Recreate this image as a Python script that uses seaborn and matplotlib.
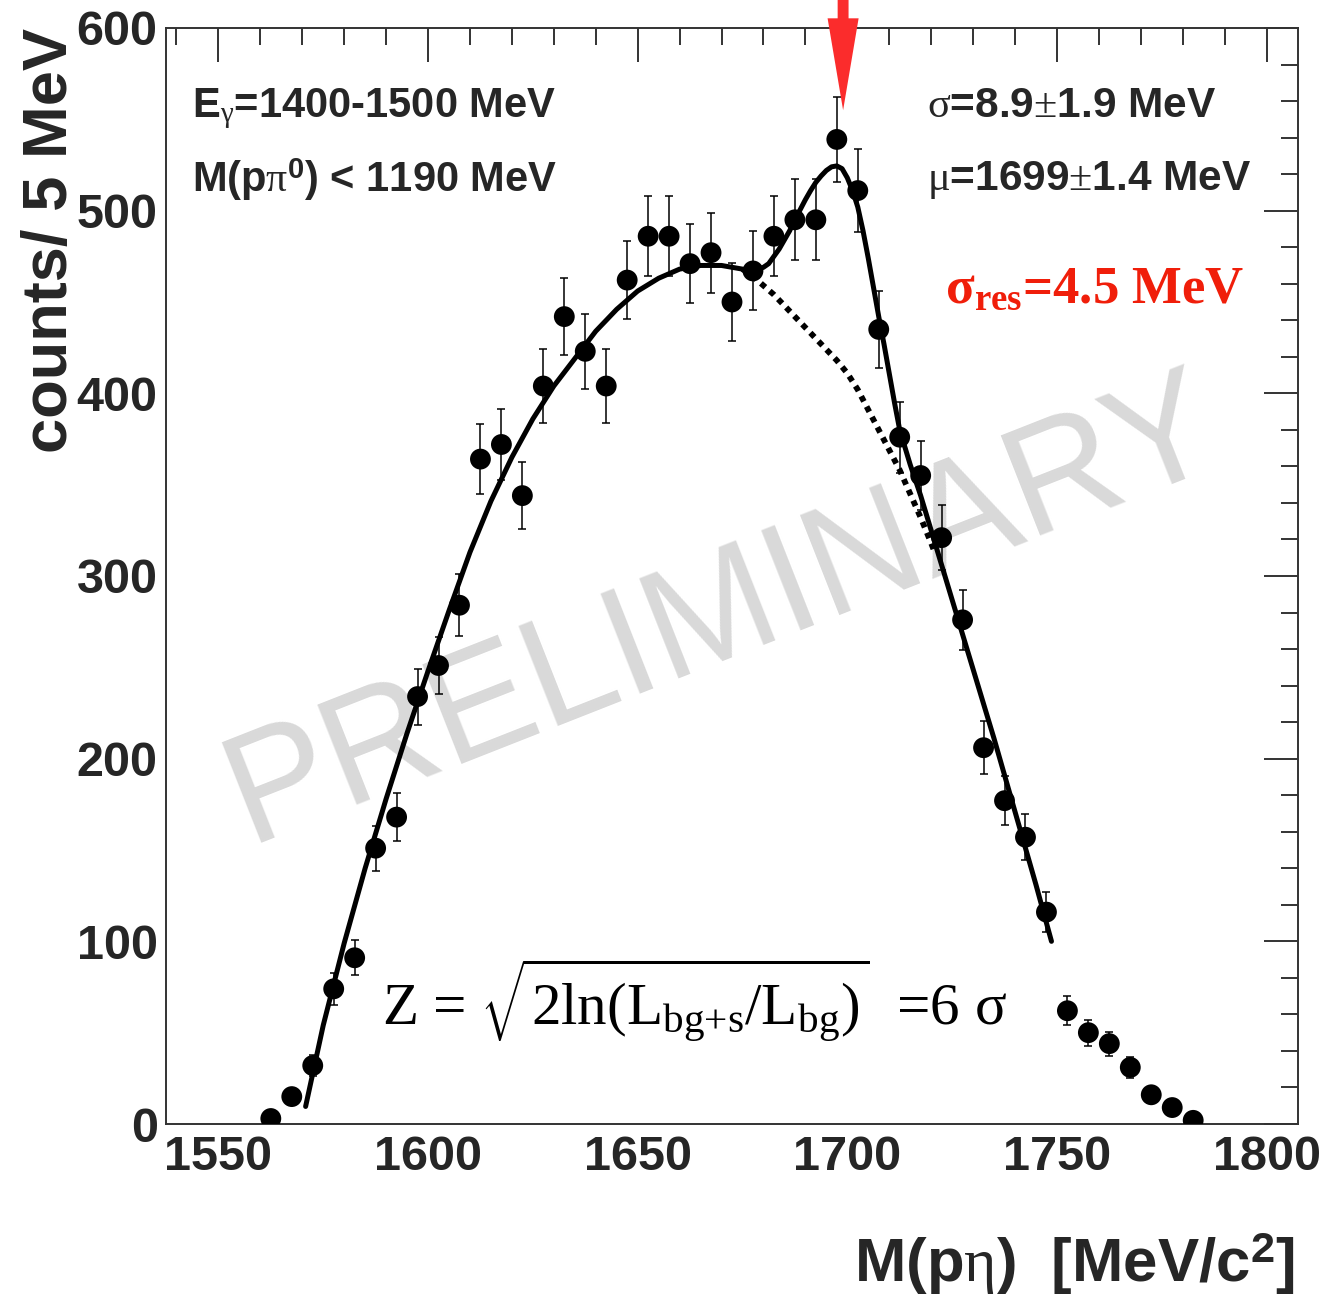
import matplotlib
matplotlib.use("Agg")
import matplotlib.pyplot as plt
import seaborn as sns
import pandas as pd
from matplotlib.patches import FancyArrow
from matplotlib.ticker import MultipleLocator

# ---------------- data ----------------
mass_centers = [1562.5, 1567.5, 1572.5, 1577.5, 1582.5, 1587.5, 1592.5, 1597.5, 1602.5,
                1607.5, 1612.5, 1617.5, 1622.5, 1627.5, 1632.5, 1637.5, 1642.5, 1647.5,
                1652.5, 1657.5, 1662.5, 1667.5, 1672.5, 1677.5, 1682.5, 1687.5, 1692.5,
                1697.5, 1702.5, 1707.5, 1712.5, 1717.5, 1722.5, 1727.5, 1732.5, 1737.5,
                1742.5, 1747.5, 1752.5, 1757.5, 1762.5, 1767.5, 1772.5, 1777.5, 1782.5]
counts = [3, 15, 32, 74, 91, 151, 168, 234, 251,
          284, 364, 372, 344, 404, 442, 423, 404, 462,
          486, 486, 471, 477, 450, 467, 486, 495, 495,
          539, 511, 435, 376, 355, 321, 276, 206, 177,
          157, 116, 62, 50, 44, 31, 16, 9, 2]
count_errors = [1.7, 3.9, 5.7, 8.6, 9.5, 12.3, 13.0, 15.3, 15.8,
                16.9, 19.1, 19.3, 18.5, 20.1, 21.0, 20.6, 20.1, 21.5,
                22.0, 22.0, 21.7, 21.8, 21.2, 21.6, 22.0, 22.2, 22.2,
                23.2, 22.6, 20.9, 19.4, 18.8, 17.9, 16.6, 14.4, 13.3,
                12.5, 10.8, 7.9, 7.1, 6.6, 5.6, 4.0, 3.0, 1.4]

fit_mass = [1570.8, 1575, 1580, 1585, 1590, 1595, 1600, 1605, 1610, 1615,
            1620, 1625, 1630, 1635, 1640, 1645, 1650, 1655, 1660, 1665,
            1670, 1675, 1677.5, 1680, 1681.25, 1682.5, 1683.75, 1685, 1686.25, 1687.5,
            1688.75, 1690, 1691.25, 1692.5, 1693.75, 1695, 1696.25, 1697.5, 1698.75, 1700,
            1701.25, 1702.5, 1703.75, 1705, 1706.25, 1707.5, 1708.75, 1710, 1711.25, 1712.5,
            1715, 1717.5, 1720, 1722.5, 1725, 1727.5, 1730, 1735, 1740, 1745,
            1748.7]
fit_total = [9.6, 54, 99, 140, 178, 214, 248, 281, 313, 341,
             365, 386, 404, 419, 434, 446, 456, 463, 468, 470,
             470, 468, 467, 469, 471, 475, 479, 484, 489, 495,
             500.5, 506, 511, 515.5, 519, 522, 524, 524.5, 523, 518,
             511, 502, 489, 474, 458, 442, 427, 411, 395, 380,
             361, 344, 325, 306, 287, 268, 249, 211, 171, 131,
             100]

bg_mass = [1675, 1677.5, 1680, 1682.5, 1685, 1687.5, 1690, 1692.5, 1695, 1697.5,
           1700, 1702.5, 1705, 1707.5, 1710, 1712.5, 1715, 1717.5, 1720, 1721]
bg_values = [468, 464, 459, 454, 448, 442, 436, 430, 424, 418,
             411, 402, 391, 380, 369, 358, 345, 332, 318, 312]

peak_mu = 1699.0
x_limits = (1537.5, 1807.5)
y_limits = (0, 600)

label_beam = r"E$_{\mathrm{\gamma}}$=1400-1500 MeV"
label_cut = r"M(p$\mathrm{\pi}^{\mathsf{0}}$) < 1190 MeV"
label_sigma = r"$\mathrm{\sigma}$=8.9$\mathrm{\pm}$1.9 MeV"
label_mu = r"$\mathrm{\mu}$=1699$\mathrm{\pm}$1.4 MeV"
label_res = r"$\mathbf{\sigma_{res}}$=4.5 MeV"
label_z = r"Z = $\sqrt{\mathrm{2ln(L_{bg{+}s}/L_{bg})}}$  =6 σ"
label_x = r"M(p$\mathrm{\eta}$)  [MeV/c$^{\mathsf{2}}$]"
label_y = "counts/ 5 MeV"
watermark = "PRELIMINARY"

# ---------------- style ----------------
sns.set_style("white")
plt.rcParams['font.family'] = ['Liberation Sans', 'DejaVu Sans']
plt.rcParams['mathtext.fontset'] = 'custom'
plt.rcParams['mathtext.rm'] = 'Liberation Serif'
plt.rcParams['mathtext.it'] = 'Liberation Serif:italic'
plt.rcParams['mathtext.bf'] = 'Liberation Serif:bold'
plt.rcParams['mathtext.sf'] = 'Liberation Sans:bold'

W, H = 1327, 1295
fig = plt.figure(figsize=(W / 100, H / 100), dpi=100)
L, R, T, B = 166, 1298, 28, 1124
ax = fig.add_axes([L / W, 1 - B / H, (R - L) / W, (B - T) / H])


def fx(px):
    return px / W


def fy(py):
    return 1 - py / H


df_pts = pd.DataFrame({"mass": mass_centers, "counts": counts, "err": count_errors})
df_fit = pd.DataFrame({"mass": fit_mass, "value": fit_total})
df_bg = pd.DataFrame({"mass": bg_mass, "value": bg_values})

# watermark
ax.text(0.0724, 0.2564, watermark, transform=ax.transAxes, rotation=21.5,
        rotation_mode='anchor', ha='left', va='baseline', fontsize=112,
        color='#d9d9d9', fontweight='normal', zorder=0.5)

# background (dotted)
sns.lineplot(data=df_bg, x="mass", y="value", ax=ax, sort=False, estimator=None,
             color='black', linewidth=4.2, linestyle=(0, (1, 1)),
             dash_capstyle='butt', zorder=2)
# full fit
sns.lineplot(data=df_fit, x="mass", y="value", ax=ax, sort=False, estimator=None,
             color='black', linewidth=3.6, zorder=3)

# error bars and points
ax.errorbar(df_pts["mass"], df_pts["counts"], yerr=df_pts["err"], fmt='none',
            ecolor='black', elinewidth=1.1, capsize=3.2, capthick=1.1, zorder=4)
sns.scatterplot(data=df_pts, x="mass", y="counts", ax=ax, s=225, color='black',
                edgecolor='none', linewidth=0, zorder=5)

# red arrow at the peak position
arrow = FancyArrow(peak_mu, 615.5, 0, -60.5, width=2.6, head_width=7.4,
                   head_length=50.3, length_includes_head=True,
                   color='#fb2c2c', lw=0, clip_on=False, zorder=6)
ax.add_patch(arrow)

# axes
ax.set_xlim(*x_limits)
ax.set_ylim(*y_limits)
ax.xaxis.set_major_locator(MultipleLocator(50))
ax.xaxis.set_minor_locator(MultipleLocator(10))
ax.yaxis.set_major_locator(MultipleLocator(100))
ax.yaxis.set_minor_locator(MultipleLocator(20))
ax.tick_params(which='both', direction='in', top=True, right=True,
               color='#333333', width=1.4)
ax.tick_params(which='major', length=24.5)
ax.tick_params(which='minor', length=12.2)
ax.tick_params(axis='x', which='major', pad=8, labelsize=35)
ax.tick_params(axis='y', which='major', pad=6, labelsize=35)
for lab in ax.get_xticklabels() + ax.get_yticklabels():
    lab.set_fontweight('bold')
for sp in ax.spines.values():
    sp.set_color('#333333')
    sp.set_linewidth(1.4)
ax.set_xlabel("")
ax.set_ylabel("")

# axis titles
fig.text(fx(1295), fy(1282), label_x, ha='right', va='baseline', fontsize=44.5,
         fontweight='bold')
fig.text(fx(67), fy(28), label_y, ha='right', va='baseline', rotation=90,
         rotation_mode='anchor', fontsize=45.5, fontweight='bold')

# annotations
fig.text(fx(192), fy(117), label_beam, ha='left', va='baseline', fontsize=30,
         fontweight='bold')
fig.text(fx(192), fy(192), label_cut, ha='left', va='baseline', fontsize=30,
         fontweight='bold')
fig.text(fx(927), fy(117), label_sigma, ha='left', va='baseline', fontsize=30.5,
         fontweight='bold')
fig.text(fx(927), fy(190), label_mu, ha='left', va='baseline', fontsize=30.5,
         fontweight='bold')
fig.text(fx(945), fy(303), label_res, ha='left', va='baseline', fontsize=38,
         fontweight='bold', family='Liberation Serif', color='#f01e0a')
fig.text(fx(382), fy(1026), label_z, ha='left', va='baseline', fontsize=42.5,
         fontweight='normal', family=['Liberation Serif', 'DejaVu Serif'],
         color='black')

fig.savefig("out.png", dpi=100)
